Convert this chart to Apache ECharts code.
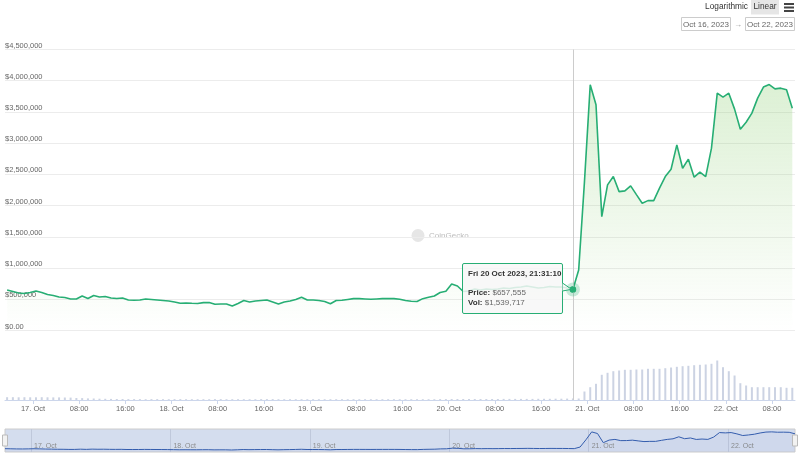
<!DOCTYPE html>
<html>
<head>
<meta charset="utf-8">
<script src="https://cdn.jsdelivr.net/npm/echarts@6/dist/echarts.min.js"></script>
<style>
  html, body { margin: 0; padding: 0; background: #fff; }
  #chart { width: 800px; height: 460px; }
</style>
</head>
<body>
<div id="chart"></div>
<script>
const FIRST_SAMPLE = Date.UTC(2023, 9, 16, 19, 31, 10);
const HOUR = 3600 * 1000;

// hourly price (USD), 16 Oct 19:31 -> 22 Oct 11:31 UTC
const prices = [
  649000, 625000, 601000, 593000, 609000, 633000, 609000, 577000, 561000, 537000,
  529000, 505000, 505000, 553000, 513000, 561000, 537000, 545000, 521000, 513000,
  521000, 489000, 484000, 489000, 505000, 497000, 489000, 481000, 473000, 457000,
  436000, 441000, 436000, 433000, 446000, 449000, 420000, 425000, 425000, 393000,
  433000, 481000, 457000, 473000, 481000, 489000, 457000, 425000, 457000, 473000,
  497000, 532000, 489000, 489000, 481000, 465000, 429000, 481000, 484000, 497000,
  510000, 510000, 505000, 500000, 505000, 510000, 510000, 510000, 500000, 481000,
  468000, 465000, 510000, 532000, 553000, 609000, 628000, 745000, 713000, 625000,
  633000, 665000, 649000, 665000, 657000, 665000, 681000, 673000, 689000, 697000,
  713000, 697000, 681000, 689000, 705000, 697000, 697000, 681000, 657555,
  970000, 2380000, 3934000, 3614000, 1824000, 2332000, 2465000, 2224000, 2236000, 2316000,
  2176000, 2038000, 2080000, 2080000, 2279000, 2465000, 2583000, 2973000, 2599000, 2744000,
  2455000, 2535000, 2465000, 2920000, 3801000, 3737000, 3801000, 3545000, 3224000, 3335000,
  3481000, 3721000, 3898000, 3939000, 3870000, 3881000, 3854000, 3561000
];

// 24h volume, millions of USD, same hours
const volumeMillions = [
  2.8, 2.8, 2.7, 2.8, 2.7, 2.7, 2.8, 2.7, 2.6, 2.6, 2.5, 2.4,
  2.0, 1.9, 1.6, 1.5, 1.3, 1.2, 1.1, 1.0,
  1.0, 0.9, 0.9, 0.9, 0.8, 0.9, 0.9, 0.8, 0.8, 0.9,
  0.9, 0.8, 0.8, 0.8, 0.8, 0.8, 0.9, 0.9, 0.8, 0.8,
  0.8, 0.8, 0.8, 0.8, 0.9, 0.9, 0.9, 0.8, 0.8, 0.8,
  0.8, 0.8, 0.8, 0.8, 0.8, 0.8, 0.8, 0.8, 0.8, 0.8,
  0.8, 0.8, 0.8, 0.8, 0.8, 0.8, 0.8, 0.8, 0.8, 0.8,
  0.8, 0.8, 0.8, 0.8, 0.8, 0.9, 0.9, 1.0, 1.0, 1.0,
  1.0, 1.0, 1.0, 1.0, 1.0, 1.0, 1.1, 1.1, 1.1, 1.1,
  1.1, 1.1, 1.2, 1.2, 1.2, 1.3, 1.3, 1.4, 1.539717,
  1.5, 8.5, 12.8, 16.2, 25.2, 27.2, 28.8, 29.5, 30.2, 30.2,
  30.5, 30.5, 31.2, 31.2, 31.2, 31.8, 32.5, 33.2, 33.8, 34.2,
  34.8, 35.2, 35.5, 36.2, 39.5, 32.8, 28.8, 24.5, 16.8, 14.5,
  12.8, 12.8, 12.8, 12.8, 12.8, 12.8, 12.2, 12.2
];

const tickTimes = [
  '2023-10-17T00:00:00Z', '2023-10-17T08:00:00Z', '2023-10-17T16:00:00Z',
  '2023-10-18T00:00:00Z', '2023-10-18T08:00:00Z', '2023-10-18T16:00:00Z',
  '2023-10-19T00:00:00Z', '2023-10-19T08:00:00Z', '2023-10-19T16:00:00Z',
  '2023-10-20T00:00:00Z', '2023-10-20T08:00:00Z', '2023-10-20T16:00:00Z',
  '2023-10-21T00:00:00Z', '2023-10-21T08:00:00Z', '2023-10-21T16:00:00Z',
  '2023-10-22T00:00:00Z', '2023-10-22T08:00:00Z'
].map(Date.parse);

const dayTimes = [
  '2023-10-17T00:00:00Z', '2023-10-18T00:00:00Z', '2023-10-19T00:00:00Z',
  '2023-10-20T00:00:00Z', '2023-10-21T00:00:00Z', '2023-10-22T00:00:00Z'
].map(Date.parse);

const hoverIndex = 98;

const FONT = '"Liberation Sans", Arial, sans-serif';
const GREEN = '#27ae74';
const DAYS = ['Sun', 'Mon', 'Tue', 'Wed', 'Thu', 'Fri', 'Sat'];

const times = prices.map((p, i) => FIRST_SAMPLE + i * HOUR);
const pricePoints = prices.map((p, i) => [times[i], p]);
const volumePoints = volumeMillions.map((v, i) => [times[i], v]);

// main plot runs a little past the first/last sample on each side
const axisMin = Date.UTC(2023, 9, 16, 19, 9, 20);
const axisMax = Date.UTC(2023, 9, 22, 11, 59, 10);

function pad(n) {
  return String(n).padStart(2, '0');
}

function formatTick(value) {
  const d = new Date(value);
  if (d.getUTCHours() === 0) return d.getUTCDate() + '. Oct';
  return pad(d.getUTCHours()) + ':00';
}

function tooltipHtml(i) {
  const d = new Date(times[i]);
  const title = `${DAYS[d.getUTCDay()]} ${d.getUTCDate()} Oct ${d.getUTCFullYear()}, ` +
    `${pad(d.getUTCHours())}:${pad(d.getUTCMinutes())}:${pad(d.getUTCSeconds())}`;
  const price = Math.round(prices[i]).toLocaleString('en-US');
  const vol = Math.round(volumeMillions[i] * 1e6).toLocaleString('en-US');
  return `
    <div style="font-weight:bold;color:#333;line-height:10px">${title}</div>
    <div style="height:9px"></div>
    <div style="line-height:10px;color:#666"><b style="color:#333">Price:</b> $${price}</div>
    <div style="line-height:10px;color:#666"><b style="color:#333">Vol:</b> $${vol}</div>
    <svg width="12" height="12" style="position:absolute;left:98px;top:17px;overflow:visible">
      <polyline points="1.5,2 10.5,8.3 1.5,10" fill="rgba(247,247,247,0.85)" stroke="${GREEN}" stroke-width="1"/>
    </svg>`;
}

const crosshair = {
  silent: true,
  symbol: 'none',
  label: { show: false },
  lineStyle: { color: '#cccccc', width: 1, type: 'solid' },
  data: [{ xAxis: times[hoverIndex] }]
};

const chart = echarts.init(document.getElementById('chart'));

const option = {
  animation: false,
  textStyle: { fontFamily: FONT },
  grid: [
    { left: 5, right: 5, top: 49.5, height: 281 },
    { left: 5, right: 5, top: 331, height: 69 },
    {
      left: 5, right: 5, top: 429, height: 23, show: true,
      backgroundColor: 'rgba(102,133,194,0.28)', borderColor: '#cccccc', borderWidth: 1
    }
  ],
  xAxis: [
    { type: 'value', gridIndex: 0, min: axisMin, max: axisMax, show: false },
    {
      type: 'value', gridIndex: 1, min: axisMin, max: axisMax,
      axisLine: { lineStyle: { color: '#ccd6eb' } },
      axisTick: { customValues: tickTimes, length: 4, lineStyle: { color: '#ccd6eb' } },
      axisLabel: {
        customValues: tickTimes, formatter: formatTick,
        color: '#666', fontSize: 7.5, margin: 5, fontFamily: FONT
      },
      splitLine: { show: false }
    },
    {
      type: 'value', gridIndex: 2, min: times[0], max: times[times.length - 1],
      axisLine: { show: false },
      axisTick: {
        customValues: dayTimes, inside: true, length: 23,
        lineStyle: { color: '#bfc8db' }
      },
      axisLabel: {
        customValues: dayTimes, inside: true, align: 'left', margin: 2,
        padding: [0, 0, 0, 3], formatter: formatTick,
        color: '#8c8c8c', fontSize: 7, fontFamily: FONT
      },
      splitLine: { show: false }
    }
  ],
  yAxis: [
    {
      type: 'value', gridIndex: 0, min: 0, max: 4500000, interval: 500000,
      axisLine: { show: false },
      axisTick: { show: false },
      axisLabel: {
        inside: true, margin: 0, verticalAlign: 'bottom',
        color: '#666', fontSize: 7.5, fontFamily: FONT,
        formatter: v => v === 0 ? '$0.00' : '$' + v.toLocaleString('en-US')
      },
      splitLine: { lineStyle: { color: '#ececec' } }
    },
    { type: 'value', gridIndex: 1, min: 0, max: 69, show: false },
    { type: 'value', gridIndex: 2, min: 0, max: 4500000, show: false }
  ],
  tooltip: {
    trigger: 'axis',
    axisPointer: { type: 'none' },
    alwaysShowContent: true,
    transitionDuration: 0,
    position: [462, 263],
    padding: [5, 5, 4, 5],
    backgroundColor: 'rgba(247,247,247,0.85)',
    borderColor: GREEN,
    borderWidth: 1,
    borderRadius: 2,
    textStyle: { fontSize: 8, color: '#333', fontFamily: FONT },
    extraCssText: 'box-shadow:none;box-sizing:border-box;width:101px;height:51px;line-height:10px;',
    formatter: () => tooltipHtml(hoverIndex)
  },
  graphic: [
    // watermark
    { type: 'circle', shape: { cx: 418, cy: 235.5, r: 6.5 }, style: { fill: '#e6e6e6' }, silent: true },
    {
      type: 'text', x: 429, y: 235.5, silent: true,
      style: { text: 'CoinGecko', fill: '#bbbbbb', font: '8px ' + FONT, verticalAlign: 'middle' }
    },
    // scale switch + menu
    {
      type: 'text', x: 748, y: 7,
      style: { text: 'Logarithmic', fill: '#333', font: '8.3px ' + FONT, align: 'right', verticalAlign: 'middle' }
    },
    { type: 'rect', shape: { x: 751, y: 0, width: 28, height: 14.5 }, style: { fill: '#e6e6e6' } },
    {
      type: 'text', x: 765, y: 7,
      style: { text: 'Linear', fill: '#333', font: '8.3px ' + FONT, align: 'center', verticalAlign: 'middle' }
    },
    { type: 'rect', shape: { x: 784, y: 3, width: 10, height: 2 }, style: { fill: '#444' } },
    { type: 'rect', shape: { x: 784, y: 6.5, width: 10, height: 2 }, style: { fill: '#444' } },
    { type: 'rect', shape: { x: 784, y: 10, width: 10, height: 2 }, style: { fill: '#444' } },
    // date range inputs
    { type: 'rect', shape: { x: 681.5, y: 17.5, width: 49, height: 13 }, style: { fill: '#fff', stroke: '#cccccc', lineWidth: 1 } },
    {
      type: 'text', x: 706, y: 24.3,
      style: { text: 'Oct 16, 2023', fill: '#666', font: '8px ' + FONT, align: 'center', verticalAlign: 'middle' }
    },
    {
      type: 'text', x: 738, y: 24.3,
      style: { text: '→', fill: '#999', font: '8px ' + FONT, align: 'center', verticalAlign: 'middle' }
    },
    { type: 'rect', shape: { x: 745.5, y: 17.5, width: 49, height: 13 }, style: { fill: '#fff', stroke: '#cccccc', lineWidth: 1 } },
    {
      type: 'text', x: 770, y: 24.3,
      style: { text: 'Oct 22, 2023', fill: '#666', font: '8px ' + FONT, align: 'center', verticalAlign: 'middle' }
    },
    // navigator handles
    { type: 'rect', z: 10, shape: { x: 2.5, y: 435, width: 5, height: 11 }, style: { fill: '#f2f2f2', stroke: '#bbbbbb', lineWidth: 1 } },
    { type: 'rect', z: 10, shape: { x: 792.5, y: 435, width: 5, height: 11 }, style: { fill: '#f2f2f2', stroke: '#bbbbbb', lineWidth: 1 } }
  ],
  series: [
    {
      name: 'Price',
      type: 'line',
      xAxisIndex: 0,
      yAxisIndex: 0,
      data: pricePoints,
      showSymbol: false,
      symbol: 'circle',
      emphasis: { disabled: true },
      lineStyle: { color: GREEN, width: 1.6 },
      itemStyle: { color: GREEN },
      areaStyle: {
        origin: 'start',
        color: new echarts.graphic.LinearGradient(0, 0, 0, 1, [
          { offset: 0, color: 'rgba(125,200,95,0.38)' },
          { offset: 1, color: 'rgba(125,200,95,0)' }
        ])
      },
      markLine: crosshair,
      markPoint: {
        silent: true,
        label: { show: false },
        data: [
          { coord: pricePoints[hoverIndex], symbol: 'circle', symbolSize: 14, itemStyle: { color: 'rgba(39,174,116,0.25)' } },
          { coord: pricePoints[hoverIndex], symbol: 'circle', symbolSize: 6, itemStyle: { color: GREEN } }
        ]
      }
    },
    {
      name: 'Vol',
      type: 'bar',
      xAxisIndex: 1,
      yAxisIndex: 1,
      data: volumePoints,
      barWidth: 2,
      itemStyle: { color: '#ccd3e3' },
      emphasis: { disabled: true },
      markLine: crosshair
    },
    {
      name: 'Navigator',
      type: 'line',
      xAxisIndex: 2,
      yAxisIndex: 2,
      data: pricePoints,
      showSymbol: false,
      silent: true,
      lineStyle: { color: '#335cad', width: 1 },
      areaStyle: { color: 'rgba(51,92,173,0.05)' }
    }
  ]
};

chart.setOption(option);
chart.dispatchAction({ type: 'showTip', seriesIndex: 0, dataIndex: hoverIndex });
</script>
</body>
</html>
